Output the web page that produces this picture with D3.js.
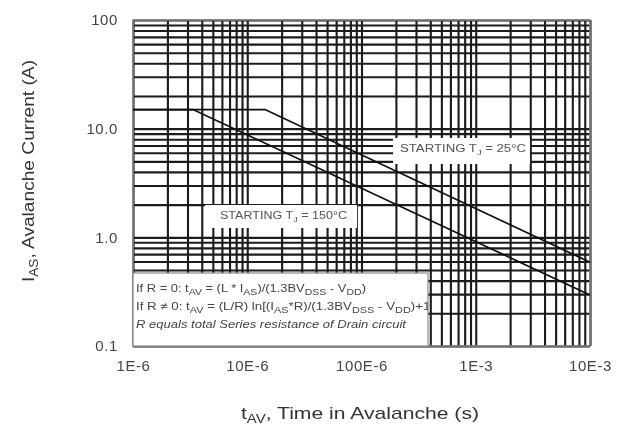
<!DOCTYPE html>
<html>
<head>
<meta charset="utf-8">
<script src="https://cdn.jsdelivr.net/npm/d3@7"></script>
<style>
  body { margin: 0; background: #fff; }
  text { font-family: "Liberation Sans", Arial, sans-serif; }
</style>
</head>
<body>
<div id="chart"></div>
<script>
// ! Data
var x_ticks = [1e-6, 1e-5, 1e-4, 1e-3, 1e-2];
var x_tick_labels = ["1E-6", "10E-6", "100E-6", "1E-3", "10E-3"];
var y_ticks = [0.1, 1, 10, 100];
var y_tick_labels = ["0.1", "1.0", "10.0", "100"];

var t_av_25 = [1e-6, 14.3e-6, 10e-3];
var i_as_25 = [15, 15, 0.59];
var t_av_150 = [1e-6, 3.35e-6, 10e-3];
var i_as_150 = [15, 15, 0.295];

// ! Layout
var width = 627, height = 426;
var plot_left = 133, plot_right = 590, plot_top = 20, plot_bottom = 346;

var svg = d3.select("#chart")
  .append("svg")
  .attr("width", width)
  .attr("height", height);

svg.append("rect").attr("width", width).attr("height", height).attr("fill", "#fff");

var defs = svg.append("defs");
defs.append("filter").attr("id", "soft")
  .append("feGaussianBlur").attr("stdDeviation", 0.45);
defs.append("clipPath").attr("id", "box_clip")
  .append("rect").attr("x", plot_left).attr("y", 273).attr("width", 295).attr("height", plot_bottom - 273);

var g = svg.append("g").attr("filter", "url(#soft)");

var x = d3.scaleLog().domain([1e-6, 1e-2]).range([plot_left, plot_right]);
var y = d3.scaleLog().domain([0.1, 100]).range([plot_bottom, plot_top]);

// every 1..9 of each decade gets a grid line
function decade_grid(domain) {
  var out = [];
  var lo = Math.round(Math.log10(domain[0])), hi = Math.round(Math.log10(domain[1]));
  for (var p = lo; p <= hi; p++) {
    for (var k = 1; k <= 9; k++) {
      if (p === hi && k > 1) break;
      out.push(+(k * Math.pow(10, p)).toPrecision(3));
    }
  }
  return out;
}

// ! Grid
var grid_x = g.append("g")
  .attr("transform", "translate(0," + plot_bottom + ")")
  .call(d3.axisBottom(x).tickValues(decade_grid(x.domain())).tickFormat("").tickSize(-(plot_bottom - plot_top)));
var grid_y = g.append("g")
  .attr("transform", "translate(" + plot_left + ",0)")
  .call(d3.axisLeft(y).tickValues(decade_grid(y.domain())).tickFormat("").tickSize(-(plot_right - plot_left)));

[grid_x, grid_y].forEach(function (a) {
  a.select(".domain").remove();
  a.selectAll(".tick line").attr("stroke", "#1a1a1a").attr("stroke-width", 2.1);
});

// ! Frame
g.append("rect")
  .attr("x", plot_left).attr("y", plot_top)
  .attr("width", plot_right - plot_left).attr("height", plot_bottom - plot_top)
  .attr("fill", "none").attr("stroke", "#8a8a8a").attr("stroke-width", 1.5);

// ! Label boxes (white backgrounds hide the grid)
g.append("rect").attr("x", 393).attr("y", 138).attr("width", 137).attr("height", 26).attr("fill", "#fff");
g.append("rect").attr("x", 205).attr("y", 205).attr("width", 152).attr("height", 23).attr("fill", "#fff");
g.append("rect").attr("x", plot_left).attr("y", 273).attr("width", 295).attr("height", plot_bottom - 273)
  .attr("fill", "#fff").attr("stroke", "#8a8a8a").attr("stroke-width", 1.2);

function starting_label(xp, yp, temp, len) {
  var t = g.append("text").attr("x", xp).attr("y", yp)
    .attr("font-size", 10).attr("fill", "#555")
    .attr("textLength", len).attr("lengthAdjust", "spacingAndGlyphs");
  t.append("tspan").text("STARTING T");
  t.append("tspan").attr("font-size", 7).attr("dy", 3).text("J");
  t.append("tspan").attr("dy", -3).text(" = " + temp + "\u00B0C");
}
starting_label(400, 152, 25, 126);
starting_label(220, 219, 150, 127);

// ! Formula text
var formula = g.append("g").attr("clip-path", "url(#box_clip)");
function formula_line(yp, parts, len, italic) {
  var t = formula.append("text").attr("x", 136).attr("y", yp)
    .attr("font-size", 11).attr("fill", "#444")
    .attr("textLength", len).attr("lengthAdjust", "spacingAndGlyphs");
  if (italic) t.attr("font-style", "italic");
  parts.forEach(function (p) {
    var s = t.append("tspan").text(p[0]);
    if (p[1] === "sub") s.attr("font-size", 9).attr("baseline-shift", "-3");
  });
}
formula_line(292, [["If R = 0: t"], ["AV", "sub"], [" = (L * I"], ["AS", "sub"], [")/(1.3BV"], ["DSS", "sub"], [" - V"], ["DD", "sub"], [")"]], 230);
formula_line(310, [["If R \u2260 0: t"], ["AV", "sub"], [" = (L/R) ln[(I"], ["AS", "sub"], ["*R)/(1.3BV"], ["DSS", "sub"], [" - V"], ["DD", "sub"], [")+1]"]], 298);
formula_line(328, [["R equals total Series resistance of Drain circuit"]], 270, true);

// ! Curves
var line = d3.line()
  .x(function (d) { return x(d[0]); })
  .y(function (d) { return y(d[1]); });

[[t_av_25, i_as_25], [t_av_150, i_as_150]].forEach(function (s) {
  g.append("path")
    .datum(d3.zip(s[0], s[1]))
    .attr("d", line)
    .attr("fill", "none")
    .attr("stroke", "#111")
    .attr("stroke-width", 1.8);
});

// ! Tick labels
var x_axis = g.append("g")
  .attr("transform", "translate(0," + plot_bottom + ")")
  .call(d3.axisBottom(x).tickValues(x_ticks).tickSize(0).tickPadding(14)
    .tickFormat(function (d, i) { return x_tick_labels[i]; }));
var y_axis = g.append("g")
  .attr("transform", "translate(" + plot_left + ",0)")
  .call(d3.axisLeft(y).tickValues(y_ticks).tickSize(0).tickPadding(15)
    .tickFormat(function (d, i) { return y_tick_labels[i]; }));
[x_axis, y_axis].forEach(function (a) {
  a.select(".domain").remove();
  a.selectAll("text").attr("font-size", 15).attr("fill", "#444").attr("letter-spacing", 0.6)
    .style("font-family", "'Liberation Sans', Arial, sans-serif");
});

// ! Axis titles
var xt = g.append("text").attr("x", 360).attr("y", 419).attr("text-anchor", "middle")
  .attr("font-size", 17).attr("fill", "#333")
  .attr("textLength", 238).attr("lengthAdjust", "spacingAndGlyphs");
xt.append("tspan").text("t");
xt.append("tspan").attr("font-size", 12).attr("baseline-shift", "-4").text("AV");
xt.append("tspan").text(", Time in Avalanche (s)");

var yt = g.append("text").attr("transform", "translate(34,171) rotate(-90)").attr("text-anchor", "middle")
  .attr("font-size", 17).attr("fill", "#333")
  .attr("textLength", 222).attr("lengthAdjust", "spacingAndGlyphs");
yt.append("tspan").text("I");
yt.append("tspan").attr("font-size", 12).attr("baseline-shift", "-4").text("AS");
yt.append("tspan").text(", Avalanche Current (A)");
</script>
</body>
</html>
